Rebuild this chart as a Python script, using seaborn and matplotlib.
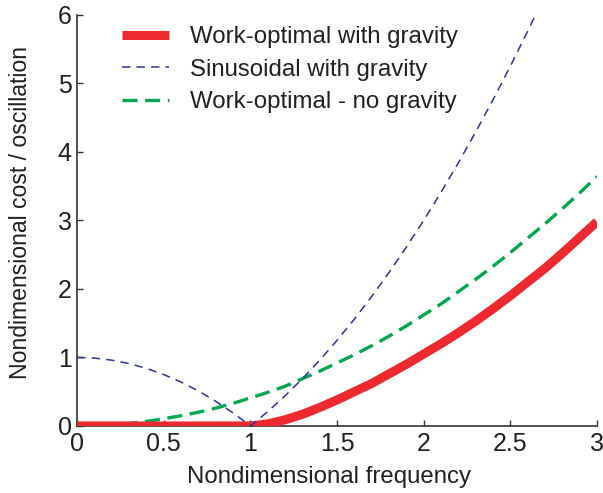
import numpy as np
import pandas as pd
import matplotlib
matplotlib.use("Agg")
import matplotlib.pyplot as plt
import seaborn as sns

# Nondimensional frequency samples
freq = [0.0, 0.1, 0.2, 0.3, 0.4, 0.5, 0.6, 0.7, 0.8, 0.9, 1.0,
        1.1, 1.2, 1.3, 1.4, 1.5, 1.6, 1.7, 1.8, 1.9, 2.0,
        2.1, 2.2, 2.3, 2.4, 2.5, 2.6, 2.7, 2.8, 2.9, 3.0]

# Cost per oscillation for each strategy
work_opt_gravity = [0.0, 0.0, 0.0, 0.0, 0.0, 0.0, 0.0, 0.0, 0.0, 0.0, 0.0,
                    0.03, 0.09, 0.17, 0.27, 0.38, 0.5, 0.62, 0.76, 0.9, 1.05,
                    1.2, 1.36, 1.53, 1.71, 1.9, 2.1, 2.3, 2.52, 2.75, 2.98]
sinusoidal_gravity = [1.0, 0.99, 0.96, 0.91, 0.84, 0.75, 0.64, 0.51, 0.36, 0.19, 0.0,
                      0.21, 0.44, 0.69, 0.96, 1.25, 1.56, 1.89, 2.24, 2.61, 3.0,
                      3.41, 3.84, 4.29, 4.76, 5.25, 5.76, 6.29, 6.84, 7.41, 8.0]
work_opt_no_gravity = [0.0, 0.004, 0.016, 0.037, 0.066, 0.105, 0.15, 0.2, 0.26, 0.33, 0.41,
                       0.49, 0.58, 0.69, 0.8, 0.92, 1.04, 1.17, 1.31, 1.46, 1.62,
                       1.78, 1.96, 2.14, 2.33, 2.53, 2.74, 2.95, 3.17, 3.4, 3.64]

labels = ["Work-optimal with gravity", "Sinusoidal with gravity", "Work-optimal - no gravity"]
x_ticks = [0, 0.5, 1, 1.5, 2, 2.5, 3]
x_tick_labels = ["0", "0.5", "1", "1.5", "2", "2.5", "3"]
y_ticks = [0, 1, 2, 3, 4, 5, 6]

df = pd.DataFrame({
    "freq": freq * 3,
    "cost": work_opt_gravity + sinusoidal_gravity + work_opt_no_gravity,
    "series": [labels[0]] * len(freq) + [labels[1]] * len(freq) + [labels[2]] * len(freq),
})

sns.set_theme(style="ticks")
plt.rcParams["font.family"] = ["Liberation Sans", "DejaVu Sans"]

fig = plt.figure(figsize=(6.03, 4.93), dpi=100)
ax = fig.add_axes([0.128, 0.136, 0.862, 0.834])

styles = {
    labels[0]: dict(color="#EE2A2F", lw=6.5, ls="-", zorder=3),
    labels[1]: dict(color="#2B3596", lw=1.1, ls=(0, (5.5, 4.0)), zorder=4),
    labels[2]: dict(color="#00A650", lw=2.4, ls=(0, (4.5, 2.3)), zorder=2),
}

for name in labels:
    sub = df[df["series"] == name]
    st = styles[name]
    sns.lineplot(data=sub, x="freq", y="cost", ax=ax, color=st["color"],
                 linewidth=st["lw"], linestyle=st["ls"], zorder=st["zorder"],
                 label=name, solid_capstyle="butt", dash_capstyle="butt",
                 estimator=None, sort=True)

ax.set_xlim(0, 3)
ax.set_ylim(0, 6)
ax.set_xticks(x_ticks)
ax.set_xticklabels(x_tick_labels)
ax.set_yticks(y_ticks)
ax.set_xlabel("Nondimensional frequency", fontsize=17.3, color="#231F20")
ax.set_ylabel("Nondimensional cost / oscillation", fontsize=16.6, color="#231F20")
ax.xaxis.set_label_coords(0.484, -0.097)
ax.yaxis.set_label_coords(-0.087, 0.518)

for side in ["top", "right"]:
    ax.spines[side].set_visible(False)
for side in ["left", "bottom"]:
    ax.spines[side].set_color("#333333")
    ax.spines[side].set_linewidth(1.2)
ax.tick_params(direction="in", length=4, width=1.0, colors="#333333",
               labelsize=18, labelcolor="#231F20", pad=4)

leg = ax.legend(loc="upper left", bbox_to_anchor=(0.087, 0.972), frameon=False,
                borderpad=0, borderaxespad=0,
                fontsize=17.3, handlelength=1.95, handletextpad=0.85,
                labelspacing=0.43, labelcolor="#231F20")

fig.savefig("out.png", dpi=100)
